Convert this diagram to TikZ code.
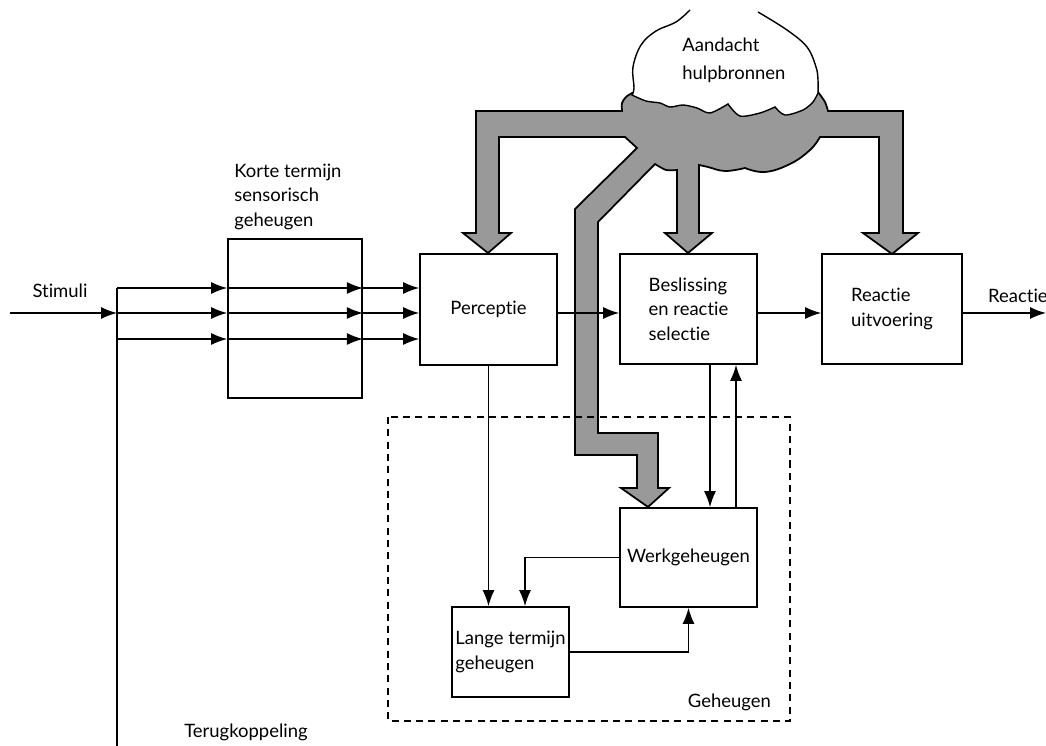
\documentclass[tikz,border=0pt]{standalone}
\usepackage{fontspec}
\setmainfont{Lato}[Ligatures=NoCommon]
\usetikzlibrary{arrows.meta}

\begin{document}
\begin{tikzpicture}[x=0.2mm,y=-0.2mm,font=\fontsize{10.5}{14}\selectfont,
    blok/.style={draw,line width=1pt,align=left,inner sep=1pt},
    pijl/.style={line width=0.75pt,-{Latex[length=3.2mm,width=2.4mm]}},
    stroom/.style={draw,line width=1pt,fill=black!40,line join=miter},
    wolk/.style={draw,line width=0.8pt,fill=white}]
\useasboundingbox (0,0) rectangle (1046,746);

% brede grijze pijlen vanuit de aandacht
\path[stroom] (476,111) -- (622,111)
  -- plot[smooth] coordinates {(622,111) (622,103) (626,97) (632,93)}
  -- (645,90) -- (650,60) -- (800,60) -- (805,90) -- (818,92)
  -- plot[smooth] coordinates {(818,92) (825,102) (828,111)}
  -- (903,111) -- (903,233) -- (918,233) -- (892,254) -- (863,233) -- (879,233) -- (879,137)
  -- (820,137)
  -- plot[smooth,tension=0.7] coordinates {(820,137) (810,150) (790,164) (765,172) (745,168)}
  -- plot[smooth,tension=0.7] coordinates {(745,168) (725,171) (708,167) (699,165)}
  -- (699,233) -- (712,233) -- (688,253) -- (665,233) -- (677,233) -- (677,170)
  -- plot[smooth] coordinates {(677,170) (666,170) (655,164)}
  -- (598,222) -- (598,433) -- (658,433) -- (658,488) -- (669,488) -- (648,507)
  -- (621,488) -- (637,488) -- (637,455) -- (575,455) -- (575,209) -- (637,148)
  -- (625,137) -- (499,137) -- (499,233) -- (511,233) -- (488,253) -- (463,233)
  -- (476,233) -- cycle;

% wolk
\path[wolk] plot[smooth,tension=0.6] coordinates {(690,10) (676,22) (656,31) (641,45) (633,67) (634,88) (632,95)}
  -- plot[smooth,tension=0.5] coordinates {(632,95) (646,101) (660,103) (670,107) (683,105) (697,108) (710,113) (728,104)}
  -- plot[smooth,tension=0.5] coordinates {(728,104) (740,116) (760,113) (775,107)}
  -- plot[smooth,tension=0.5] coordinates {(775,107) (785,115) (803,110) (813,102) (818,93)}
  -- plot[smooth,tension=0.6] coordinates {(818,93) (818,80) (816,67) (807,47) (787,30) (758,12)};
\node[anchor=north west,align=left,inner sep=0pt,font=\fontsize{10.5}{15.4}\selectfont] (aandacht) at (682,38) {Aandacht\\hulpbronnen};

% geheugen
\draw[line width=0.9pt,dash pattern=on 4pt off 3pt] (388,417) rectangle (790,721);
\node[anchor=base east] (geheugen) at (777,707) {Geheugen};

% blokken
\node[blok,minimum width=2.68cm,minimum height=3.18cm] (korte) at (295,318.5) {};
\node[anchor=south west,align=left,inner sep=0pt] (kortetxt) at (234,230) {Korte termijn\\sensorisch\\geheugen};
\node[blok,minimum width=2.74cm,minimum height=2.22cm] (perceptie) at (488.5,309.5) {Perceptie};
\node[blok,minimum width=2.74cm,minimum height=2.2cm] (beslissing) at (688.5,309) {Beslissing\\en reactie\\selectie};
\node[blok,minimum width=2.8cm,minimum height=2.2cm] (uitvoering) at (892,309) {Reactie\\uitvoering};
\node[blok,minimum width=2.74cm,minimum height=1.98cm] (werk) at (688.5,557.5) {Werkgeheugen};
\node[blok,minimum width=2.34cm,minimum height=1.8cm] (lange) at (510.5,652) {Lange termijn\\geheugen};

% in- en uitgang
\node[anchor=base] (stimuli) at (60,298) {Stimuli};
\node[anchor=base west] (reactie) at (982,303) {Reactie};
\node[anchor=base] (terug) at (246,737) {Terugkoppeling};
\coordinate (in) at (10,313);
\coordinate (splits) at (117,313);
\coordinate (uit) at (1046,313);
\coordinate (as) at (0,313);

\draw[pijl] (in) -- (splits);
\draw[line width=0.75pt] (117,288) -- (117,746);
\foreach \y in {288,313,339}{
  \coordinate (r) at (117,\y);
  \draw[pijl] (r) -- (korte.west |- r);
  \draw[pijl] (korte.west |- r) -- (korte.east |- r);
  \draw[pijl] (korte.east |- r) -- (perceptie.west |- r);
}
\draw[pijl] (perceptie.east |- as) -- (beslissing.west |- as);
\draw[pijl] (beslissing.east |- as) -- (uitvoering.west |- as);
\draw[pijl] (uitvoering.east |- as) -- (uit);

% binnen het geheugen
\draw[pijl] (perceptie.south) -- (perceptie.south |- lange.north);
\draw[pijl] (werk.west) -| ([xshift=0.29cm]lange.north);
\draw[pijl] (lange.east) -| (werk.south);
\draw[pijl] ([xshift=0.43cm]beslissing.south) -- ([xshift=0.43cm]werk.north);
\draw[pijl] ([xshift=0.95cm]werk.north) -- ([xshift=0.95cm]beslissing.south);
\end{tikzpicture}
\end{document}
